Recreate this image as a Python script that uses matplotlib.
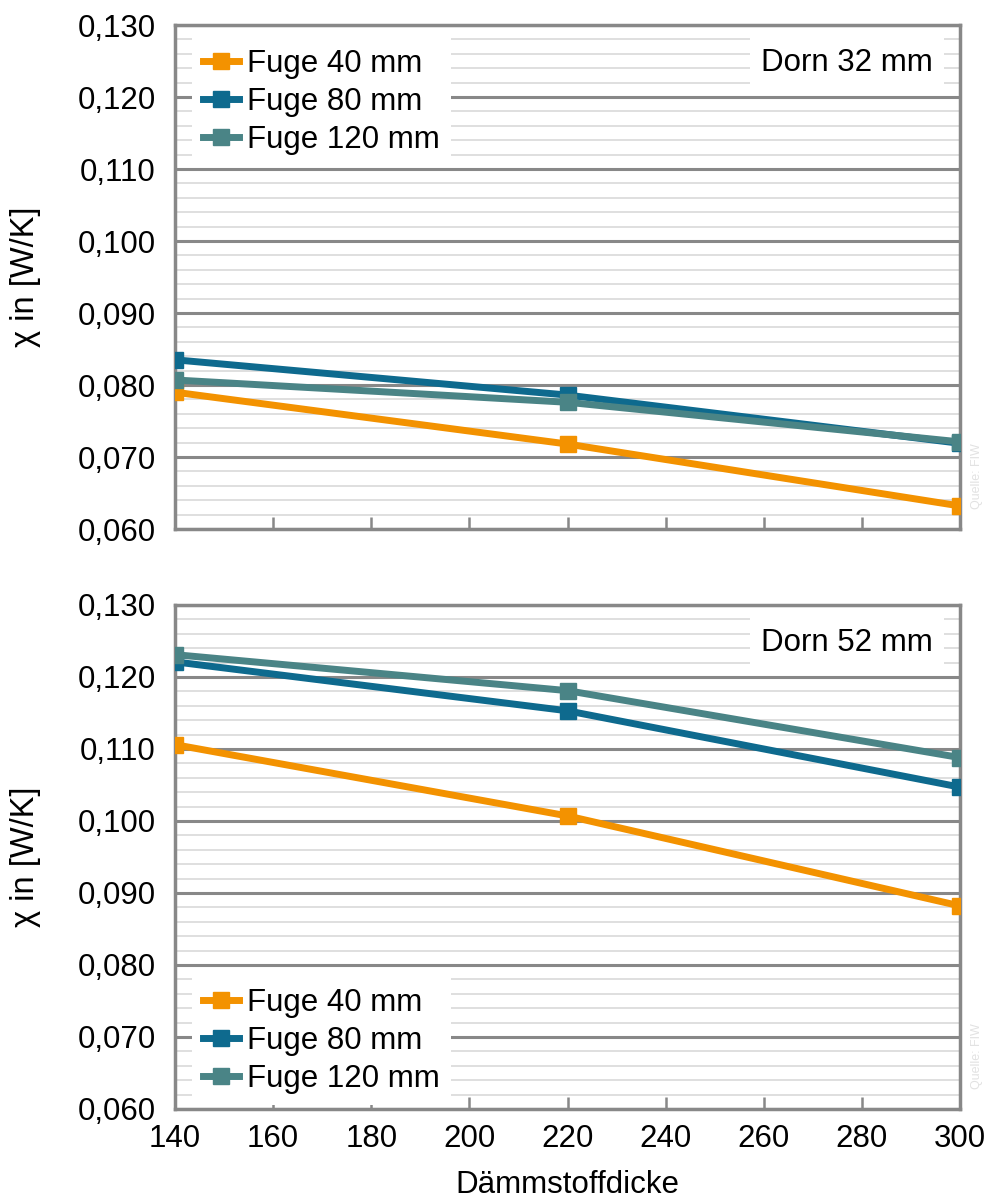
import matplotlib.pyplot as plt
from matplotlib.ticker import MultipleLocator, FuncFormatter

plt.rcParams['font.family'] = ['Liberation Sans', 'DejaVu Sans']

# Dämmstoffdicke (x)
thickness = [140, 220, 300]
labels = ["Fuge 40 mm", "Fuge 80 mm", "Fuge 120 mm"]
colors = ["#F39200", "#0E6A8E", "#4A8486"]

# Dorn 32 mm
dorn32 = [
    [0.0790, 0.0718, 0.0632],  # Fuge 40
    [0.0835, 0.0786, 0.0719],  # Fuge 80
    [0.0807, 0.0776, 0.0721],  # Fuge 120
]
# Dorn 52 mm
dorn52 = [
    [0.1106, 0.1007, 0.0882],
    [0.1221, 0.1153, 0.1047],
    [0.1231, 0.1181, 0.1088],
]
panel_titles = ["Dorn 32 mm", "Dorn 52 mm"]

fig = plt.figure(figsize=(9.9, 12.02), dpi=100)
ax1 = fig.add_axes([0.1768, 0.5599, 0.7929, 0.4193])
ax2 = fig.add_axes([0.1768, 0.0774, 0.7929, 0.4193])

fs = 22.5
spine_col = "#888888"


def comma(v, pos):
    return ("%.3f" % v).replace(".", ",")


for ax, data, title in [(ax1, dorn32, panel_titles[0]), (ax2, dorn52, panel_titles[1])]:
    ax.set_xlim(140, 300)
    ax.set_ylim(0.060, 0.130)
    ax.yaxis.set_major_locator(MultipleLocator(0.010))
    ax.yaxis.set_minor_locator(MultipleLocator(0.002))
    ax.xaxis.set_major_locator(MultipleLocator(20))
    ax.yaxis.set_major_formatter(FuncFormatter(comma))
    ax.grid(which="minor", axis="y", color="#D9D9D9", lw=1.2)
    ax.grid(which="major", axis="y", color="#888888", lw=2.2)
    ax.set_axisbelow(True)
    for s in ax.spines.values():
        s.set_color(spine_col)
        s.set_linewidth(2.5)
    ax.tick_params(axis="x", direction="in", length=9, width=1.8, color=spine_col,
                   labelsize=fs, pad=11)
    ax.tick_params(axis="y", which="both", length=0, labelsize=fs, pad=14)
    for vals, lab, c in zip(data, labels, colors):
        ax.plot(thickness, vals, color=c, lw=5, marker="s", markersize=12,
                label=lab, zorder=3)
    ax.set_ylabel("χ in [W/K]", fontsize=fs + 1, labelpad=26)
    ax.text(0.965, 0.955, title, transform=ax.transAxes, ha="right", va="top",
            fontsize=fs, zorder=5,
            bbox=dict(facecolor="white", edgecolor="none", pad=8))
    ax.text(1.022, 0.04, "Quelle: FIW", transform=ax.transAxes, rotation=90,
            ha="center", va="bottom", fontsize=9, color="#E2E2E2")

ax1.tick_params(axis="x", labelbottom=False)
ax2.set_xlabel("Dämmstoffdicke", fontsize=fs, labelpad=11)

leg_kw = dict(fontsize=fs, frameon=True, fancybox=False, framealpha=1,
              facecolor="white", edgecolor="none", handlelength=1.15,
              handletextpad=0.25, labelspacing=0.26, borderpad=0.35,
              borderaxespad=0.0)
ax1.legend(loc="upper left", bbox_to_anchor=(0.022, 0.975), **leg_kw)
ax2.legend(loc="lower left", bbox_to_anchor=(0.022, 0.008), **leg_kw)

fig.savefig("out.png", dpi=100)
